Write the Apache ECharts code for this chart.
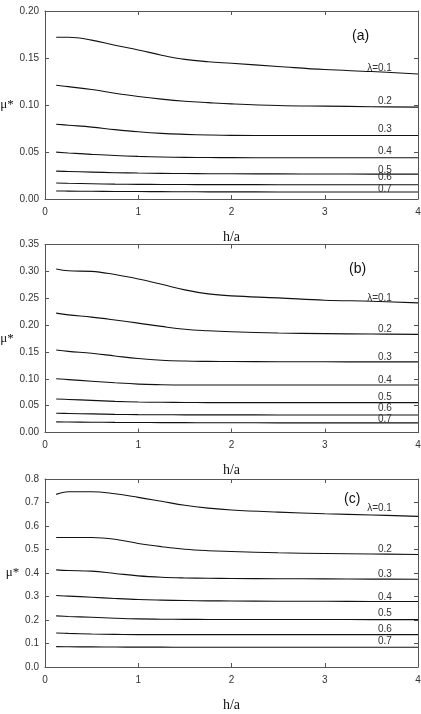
<!DOCTYPE html>
<html>
<head>
<meta charset="utf-8">
<script src="https://cdn.jsdelivr.net/npm/echarts@6/dist/echarts.min.js"></script>
<style>
  html, body { margin: 0; padding: 0; background: #fff; }
  #main { width: 421px; height: 714px; }
</style>
</head>
<body>
<div id="main"></div>
<script>
// h/a sample points, shared by every curve
const hA = [0.12, 0.25, 0.5, 0.75, 1.0, 1.25, 1.5, 1.75, 2.0, 2.5, 3.0, 3.5, 4.0];

const curveLabels = ['λ=0.1', '0.2', '0.3', '0.4', '0.5', '0.6', '0.7'];

// panel (a)
const muA = [
  [0.172, 0.172, 0.169, 0.1635, 0.1586, 0.153, 0.1485, 0.146, 0.1444, 0.141, 0.1377, 0.1356, 0.133],
  [0.121, 0.1195, 0.1165, 0.1125, 0.109, 0.1062, 0.104, 0.1025, 0.1012, 0.0995, 0.0988, 0.0982, 0.0977],
  [0.0796, 0.0785, 0.0765, 0.0738, 0.0715, 0.0698, 0.0688, 0.0681, 0.0677, 0.0676, 0.0676, 0.0676, 0.0676],
  [0.0499, 0.049, 0.0475, 0.0462, 0.0453, 0.0447, 0.0443, 0.0441, 0.044, 0.0439, 0.0439, 0.0439, 0.0439],
  [0.0297, 0.0293, 0.0286, 0.028, 0.0276, 0.0273, 0.0271, 0.0269, 0.0268, 0.0267, 0.0266, 0.0265, 0.0265],
  [0.017, 0.0167, 0.0162, 0.0158, 0.0156, 0.0155, 0.0154, 0.0153, 0.0153, 0.0152, 0.0152, 0.0152, 0.0152],
  [0.0085, 0.0084, 0.0082, 0.008, 0.0079, 0.0078, 0.0077, 0.0076, 0.0076, 0.0075, 0.0075, 0.0074, 0.0074]
];

// panel (b)
const muB = [
  [0.3043, 0.301, 0.300, 0.294, 0.2858, 0.276, 0.2655, 0.258, 0.2543, 0.2506, 0.2463, 0.2444, 0.2414],
  [0.2222, 0.219, 0.2148, 0.2095, 0.2037, 0.1975, 0.1922, 0.1895, 0.1877, 0.1852, 0.184, 0.1833, 0.1827],
  [0.1537, 0.151, 0.1475, 0.1425, 0.1377, 0.1345, 0.133, 0.1324, 0.1321, 0.1318, 0.1316, 0.1315, 0.1315],
  [0.1, 0.0985, 0.0955, 0.0925, 0.0901, 0.089, 0.0884, 0.0883, 0.0883, 0.0883, 0.0883, 0.0883, 0.0883],
  [0.0623, 0.0615, 0.0598, 0.058, 0.0568, 0.0562, 0.0559, 0.0557, 0.0557, 0.0556, 0.0556, 0.0556, 0.0556],
  [0.0358, 0.0354, 0.0346, 0.0338, 0.0333, 0.0331, 0.0329, 0.0328, 0.0328, 0.0327, 0.0327, 0.0327, 0.0327],
  [0.0198, 0.0196, 0.0192, 0.0188, 0.0186, 0.0184, 0.0183, 0.0182, 0.0181, 0.018, 0.018, 0.0179, 0.0179]
];

// panel (c)
const muC = [
  [0.7346, 0.746, 0.746, 0.737, 0.7218, 0.705, 0.688, 0.676, 0.668, 0.659, 0.652, 0.647, 0.641],
  [0.5513, 0.5513, 0.551, 0.5435, 0.5257, 0.512, 0.501, 0.495, 0.4917, 0.486, 0.483, 0.481, 0.479],
  [0.4135, 0.4105, 0.408, 0.398, 0.3879, 0.382, 0.379, 0.3775, 0.3766, 0.3755, 0.375, 0.374, 0.3737],
  [0.3041, 0.3015, 0.297, 0.2915, 0.287, 0.2845, 0.2828, 0.2815, 0.281, 0.28, 0.2795, 0.279, 0.2785],
  [0.2174, 0.215, 0.2115, 0.2075, 0.2046, 0.2035, 0.2028, 0.2024, 0.2022, 0.202, 0.2019, 0.2018, 0.2018],
  [0.1449, 0.143, 0.1405, 0.139, 0.1378, 0.1378, 0.1378, 0.1378, 0.1378, 0.1378, 0.1378, 0.1378, 0.1378],
  [0.0867, 0.0862, 0.0855, 0.085, 0.0846, 0.0844, 0.0842, 0.0841, 0.084, 0.0839, 0.0838, 0.0838, 0.0838]
];

const panelNames = ['(a)', '(b)', '(c)'];
const yMax = [0.2, 0.35, 0.8];
const yStep = [0.05, 0.05, 0.1];
const yDigits = [2, 2, 1];

const chart = echarts.init(document.getElementById('main'));

const gridTops = [11, 244.5, 479];
const axisColor = '#555';
const textColor = '#333';
// how far (px) each curve label sits above its line
const labelLift = [
  [6, 6, 6, 6, 4, 7, 3],
  [5, 5, 5, 5, 5, 7, 4],
  [8, 5, 5, 4, 6, 5, 6]
];
const titlePos = [[347, 24], [344, 257], [339, 487]];
const muNameGap = [27, 27, 24];

let grids = [], xAxes = [], yAxes = [], series = [], titles = [];

[muA, muB, muC].forEach((panel, p) => {
  grids.push({ left: 45, top: gridTops[p], width: 373, height: 188, outerBoundsMode: 'none', containLabel: false });

  const tickBase = {
    show: true, inside: true, length: 4,
    lineStyle: { color: axisColor }
  };
  const lineBase = { show: true, onZero: false, lineStyle: { color: axisColor, width: 1 } };
  // bottom
  xAxes.push({
    gridIndex: p, type: 'value', min: 0, max: 4, interval: 1,
    position: 'bottom',
    axisLine: lineBase,
    axisTick: tickBase,
    axisLabel: { color: textColor, fontSize: 10, fontFamily: 'Liberation Sans', margin: 8 },
    splitLine: { show: false },
    name: 'h/a', nameLocation: 'middle', nameGap: 31,
    nameTextStyle: { fontFamily: 'Liberation Serif', fontSize: 14, color: '#111' }
  });
  // top mirror
  xAxes.push({
    gridIndex: p, type: 'value', min: 0, max: 4, interval: 1,
    position: 'top',
    axisLine: lineBase,
    axisTick: tickBase,
    axisLabel: { show: false },
    splitLine: { show: false }
  });
  // left
  yAxes.push({
    gridIndex: p, type: 'value', min: 0, max: yMax[p], interval: yStep[p],
    position: 'left',
    axisLine: lineBase,
    axisTick: tickBase,
    axisLabel: {
      color: textColor, fontSize: 10, fontFamily: 'Liberation Sans', margin: 6,
      formatter: v => v.toFixed(yDigits[p])
    },
    splitLine: { show: false },
    name: 'μ*', nameLocation: 'middle', nameRotate: 0, nameGap: muNameGap[p],
    nameTextStyle: { fontFamily: 'Liberation Serif', fontSize: 13, color: '#111' }
  });
  // right mirror
  yAxes.push({
    gridIndex: p, type: 'value', min: 0, max: yMax[p], interval: yStep[p],
    position: 'right',
    axisLine: lineBase,
    axisTick: tickBase,
    axisLabel: { show: false },
    splitLine: { show: false }
  });

  panel.forEach((vals, i) => {
    series.push({
      type: 'line',
      xAxisIndex: p * 2,
      yAxisIndex: p * 2,
      data: hA.map((h, k) => [h, vals[k]]),
      smooth: 0.4,
      symbol: 'none',
      lineStyle: { color: '#111', width: 1.1 },
      silent: true,
      markPoint: {
        symbolSize: 0,
        silent: true,
        data: [{ name: curveLabels[i], coord: [3.72, vals[vals.length - 1]] }],
        label: {
          show: true,
          position: 'left',
          distance: 0,
          offset: [0, -labelLift[p][i]],
          formatter: curveLabels[i],
          fontSize: 10,
          fontFamily: 'Liberation Sans',
          color: textColor
        }
      }
    });
  });

  titles.push({
    text: panelNames[p],
    left: titlePos[p][0], top: titlePos[p][1],
    textStyle: { fontSize: 14, fontWeight: 'normal', fontFamily: 'Liberation Sans', color: '#111' }
  });
});

chart.setOption({
  animation: false,
  title: titles,
  grid: grids,
  xAxis: xAxes,
  yAxis: yAxes,
  series: series
});
</script>
</body>
</html>
